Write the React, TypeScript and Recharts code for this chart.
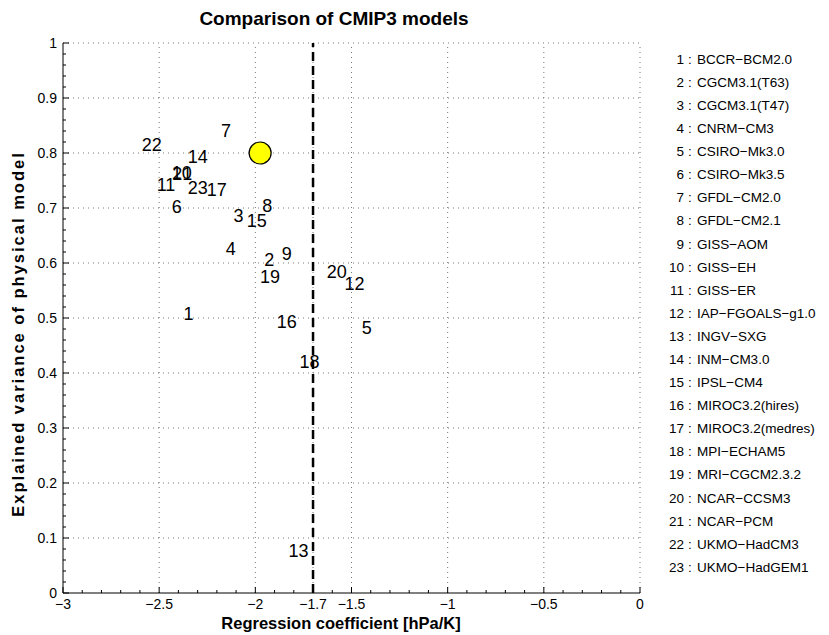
import React from 'react';
import { ScatterChart, Scatter, XAxis, YAxis, ReferenceLine } from 'recharts';

if (typeof document !== 'undefined') {
  document.body.style.margin = '0';
}

const FONT = '"Liberation Sans", Arial, Helvetica, sans-serif';

// Model names (legend)
const modelNames = [
  'BCCR\u2212BCM2.0', 'CGCM3.1(T63)', 'CGCM3.1(T47)', 'CNRM\u2212CM3', 'CSIRO\u2212Mk3.0',
  'CSIRO\u2212Mk3.5', 'GFDL\u2212CM2.0', 'GFDL\u2212CM2.1', 'GISS\u2212AOM', 'GISS\u2212EH',
  'GISS\u2212ER', 'IAP\u2212FGOALS\u2212g1.0', 'INGV\u2212SXG', 'INM\u2212CM3.0', 'IPSL\u2212CM4',
  'MIROC3.2(hires)', 'MIROC3.2(medres)', 'MPI\u2212ECHAM5', 'MRI\u2212CGCM2.3.2', 'NCAR\u2212CCSM3',
  'NCAR\u2212PCM', 'UKMO\u2212HadCM3', 'UKMO\u2212HadGEM1',
];
const modelIds = [1, 2, 3, 4, 5, 6, 7, 8, 9, 10, 11, 12, 13, 14, 15, 16, 17, 18, 19, 20, 21, 22, 23];
// Regression coefficient [hPa/K] per model
const regressionCoef = [
  -2.374, -1.953, -2.114, -2.154, -1.447, -2.435, -2.178, -1.964, -1.863, -2.435,
  -2.513, -1.537, -1.828, -2.352, -2.045, -1.889, -2.253, -1.771, -1.976, -1.629,
  -2.432, -2.591, -2.352,
];
// Explained variance per model
const explainedVariance = [
  0.509, 0.607, 0.687, 0.627, 0.483, 0.702, 0.840, 0.705, 0.618, 0.765,
  0.742, 0.563, 0.077, 0.793, 0.678, 0.493, 0.733, 0.421, 0.575, 0.584,
  0.762, 0.815, 0.738,
];
// Physical model (yellow circle)
const physicalCoef = [-1.975];
const physicalVariance = [0.8];
// Threshold line
const thresholdCoef = -1.7;

const xMajorTicks = [-3, -2.5, -2, -1.7, -1.5, -1, -0.5, 0];
const xTickLabels = ['\u22123', '\u22122.5', '\u22122', '\u22121.7', '\u22121.5', '\u22121', '\u22120.5', '0'];
const yMajorTicks = [0, 0.1, 0.2, 0.3, 0.4, 0.5, 0.6, 0.7, 0.8, 0.9, 1];
const yTickLabels = ['0', '0.1', '0.2', '0.3', '0.4', '0.5', '0.6', '0.7', '0.8', '0.9', '1'];
const xGrid = [-2.5, -2, -1.7, -1.5, -1, -0.5, 0];
const yGrid = [0.1, 0.2, 0.3, 0.4, 0.5, 0.6, 0.7, 0.8, 0.9, 1];

const xMinorTicks: number[] = [];
for (let i = -30; i <= 0; i++) xMinorTicks.push(i / 10);
const yMinorTicks: number[] = [];
for (let i = 0; i <= 50; i++) yMinorTicks.push(i / 50);

const labelData = modelIds.map((id, i) => ({ id, x: regressionCoef[i], y: explainedVariance[i] }));
const physicalData = physicalCoef.map((x, i) => ({ x, y: physicalVariance[i] }));

const near = (a: number, b: number) => Math.abs(a - b) < 1e-9;

const TICK_SIZE = 4;
const TICK_MARGIN = 2;

const XTick = (props: any) => {
  const { x, y, payload } = props;
  const v = payload.value;
  const axisY = y - TICK_SIZE - TICK_MARGIN;
  const idx = xMajorTicks.findIndex((m) => near(m, v));
  const major = idx >= 0;
  return (
    <g>
      <line x1={x} x2={x} y1={axisY} y2={axisY - (major ? 6 : 3)} stroke="#000" strokeWidth={1} />
      {major && (
        <text x={x} y={y} dy="0.71em" textAnchor="middle" fontSize={14} fontFamily={FONT} fill="#000">
          {xTickLabels[idx]}
        </text>
      )}
    </g>
  );
};

const YTick = (props: any) => {
  const { x, y, payload } = props;
  const v = payload.value;
  const axisX = x + TICK_SIZE + TICK_MARGIN;
  const idx = yMajorTicks.findIndex((m) => near(m, v));
  const major = idx >= 0;
  return (
    <g>
      <line x1={axisX} x2={axisX + (major ? 6 : 3)} y1={y} y2={y} stroke="#000" strokeWidth={1} />
      {major && (
        <text x={x} y={y} dy="0.355em" textAnchor="end" fontSize={14} fontFamily={FONT} fill="#000">
          {yTickLabels[idx]}
        </text>
      )}
    </g>
  );
};

const LabelShape = (props: any) => {
  const { cx, cy } = props;
  const id = props.payload ? props.payload.id : props.id;
  return (
    <text x={cx} y={cy} dy="0.36em" textAnchor="start" fontSize={18} fontFamily={FONT} fill="#000">
      {id}
    </text>
  );
};

const CircleShape = (props: any) => {
  const { cx, cy } = props;
  return <circle cx={cx} cy={cy} r={11} fill="#ffff00" stroke="#000" strokeWidth={1.2} />;
};

export default function App() {
  const legendTop = 59;
  const legendStep = 23.09;
  return (
    <div style={{ position: 'relative', width: 829, height: 635, background: '#fff' }}>
      <ScatterChart width={829} height={635} margin={{ top: 43, right: 189, bottom: 0, left: 13 }}>
        <XAxis
          type="number"
          dataKey="x"
          domain={[-3, 0]}
          ticks={xMinorTicks}
          interval={0}
          height={42}
          tickLine={false}
          tickSize={TICK_SIZE}
          tickMargin={TICK_MARGIN}
          tick={<XTick />}
          axisLine={{ stroke: '#000', strokeWidth: 1 }}
          allowDataOverflow
        />
        <YAxis
          type="number"
          dataKey="y"
          domain={[0, 1]}
          ticks={yMinorTicks}
          interval={0}
          width={50}
          tickLine={false}
          tickSize={TICK_SIZE}
          tickMargin={TICK_MARGIN}
          tick={<YTick />}
          axisLine={{ stroke: '#000', strokeWidth: 1 }}
          allowDataOverflow
        />
        {xGrid.map((v) => (
          <ReferenceLine key={'gx' + v} x={v} stroke="#777" strokeWidth={1} strokeDasharray="1 4" />
        ))}
        {yGrid.map((v) => (
          <ReferenceLine key={'gy' + v} y={v} stroke="#777" strokeWidth={1} strokeDasharray="1 4" />
        ))}
        <ReferenceLine x={thresholdCoef} stroke="#000" strokeWidth={2.5} strokeDasharray="9 5" />
        <Scatter data={labelData} shape={LabelShape} isAnimationActive={false} />
        <Scatter data={physicalData} shape={CircleShape} isAnimationActive={false} />
      </ScatterChart>
      <svg
        width={829}
        height={635}
        style={{ position: 'absolute', left: 0, top: 0, pointerEvents: 'none' }}
      >
        <text x={334} y={25} textAnchor="middle" fontSize={19} fontWeight="bold" fontFamily={FONT} fill="#000">
          Comparison of CMIP3 models
        </text>
        <text x={341} y={629} textAnchor="middle" fontSize={16.5} fontWeight="bold" fontFamily={FONT} fill="#000">
          Regression coefficient [hPa/K]
        </text>
        <text
          x={24}
          y={334}
          transform="rotate(-90 24 334)"
          textAnchor="middle"
          fontSize={16.5}
          fontWeight="bold"
          letterSpacing={2}
          fontFamily={FONT}
          fill="#000"
        >
          Explained variance of physical model
        </text>
        {modelNames.map((name, i) => {
          const cy = legendTop + i * legendStep;
          return (
            <g key={name}>
              <text x={684} y={cy} dy="0.36em" textAnchor="end" fontSize={13.5} fontFamily={FONT} fill="#000">
                {modelIds[i]}
              </text>
              <text x={690} y={cy} dy="0.36em" textAnchor="middle" fontSize={13.5} fontFamily={FONT} fill="#000">
                :
              </text>
              <text x={697} y={cy} dy="0.36em" textAnchor="start" fontSize={13.5} fontFamily={FONT} fill="#000">
                {name}
              </text>
            </g>
          );
        })}
      </svg>
    </div>
  );
}
